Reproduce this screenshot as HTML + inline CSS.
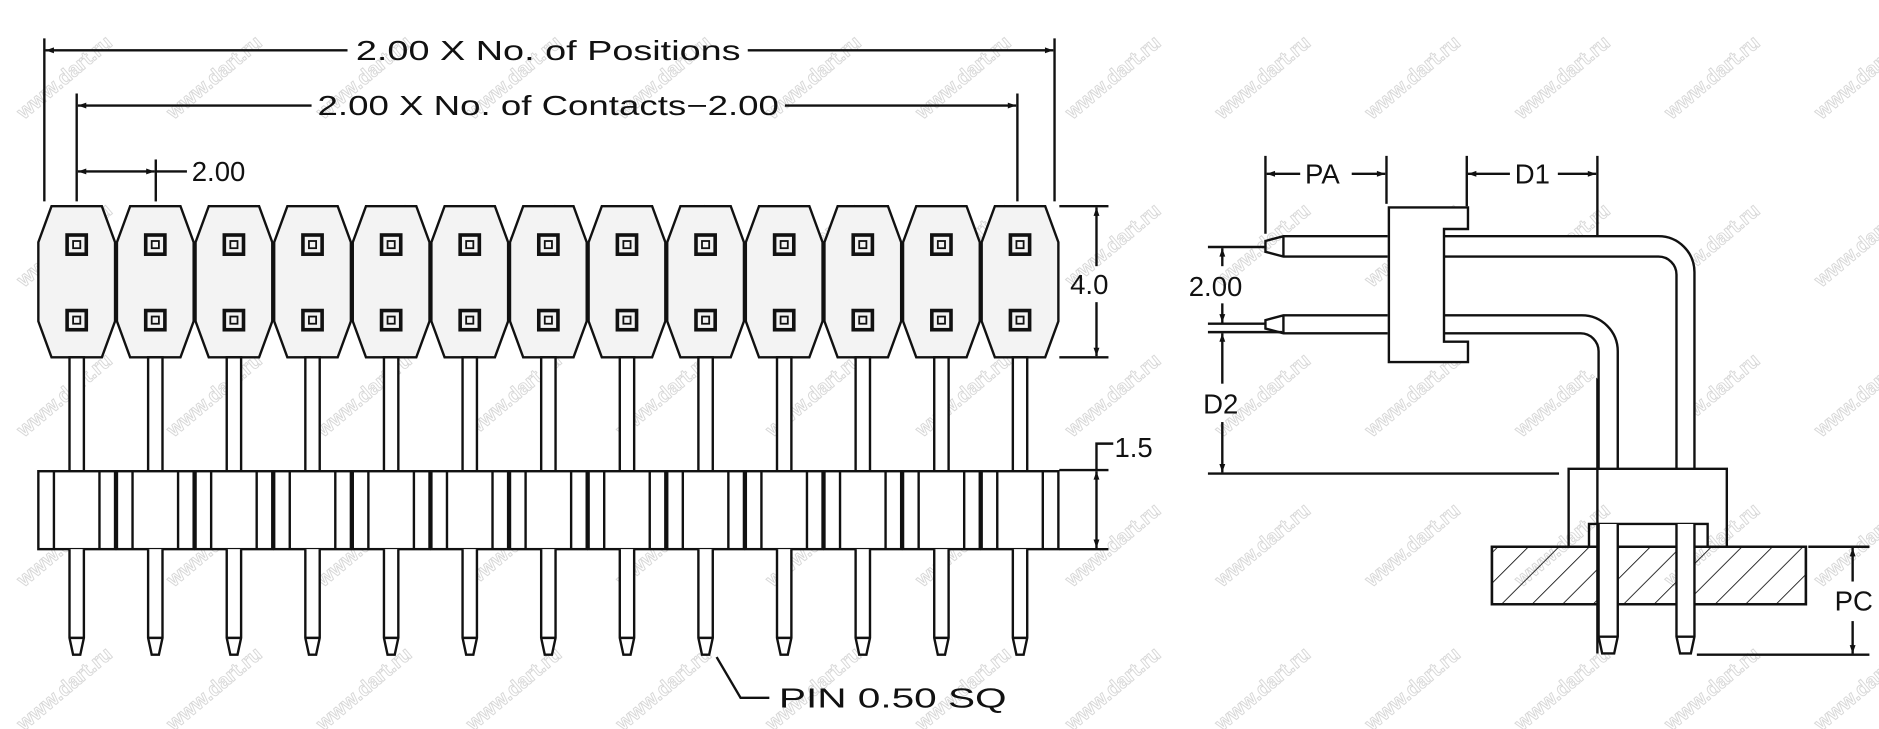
<!DOCTYPE html>
<html><head><meta charset="utf-8"><style>
html,body{margin:0;padding:0;background:#fff;}
svg{display:block;}
text{font-family:"Liberation Sans","DejaVu Sans",sans-serif;fill:#111;}
.wm{fill:none;stroke:#d8d8d8;stroke-width:0.8;font-size:17px;font-weight:bold;}
</style></head><body>
<svg width="1879" height="729" viewBox="0 0 1568 608" preserveAspectRatio="none" xmlns="http://www.w3.org/2000/svg">
<defs>
<marker id="a" viewBox="0 0 10 10" refX="10" refY="5" markerWidth="9" markerHeight="7" orient="auto-start-reverse" markerUnits="userSpaceOnUse"><path d="M0 1.5L10 5L0 8.5z" fill="#111"/></marker>
<pattern id="h" width="18" height="18" patternUnits="userSpaceOnUse" patternTransform="rotate(45)"><line x1="0" y1="0" x2="0" y2="18" stroke="#111" stroke-width="1.4"/></pattern>
<g id="p" fill="none" stroke="#111" stroke-width="2">
<polygon points="-21,172 21,172 32,202 32,268 21,298 -21,298 -32,268 -32,202" fill="#f3f3f3"/>
<rect x="-8" y="196" width="16" height="16" stroke-width="3"/><rect x="-3" y="201" width="6" height="6" stroke-width="1.5"/>
<rect x="-8" y="259" width="16" height="16" stroke-width="3"/><rect x="-3" y="264" width="6" height="6" stroke-width="1.5"/>
<rect x="-6" y="298" width="12" height="95" fill="#fff"/>
<rect x="-32" y="393" width="64" height="65" fill="#fff"/>
<line x1="-19" y1="393" x2="-19" y2="458"/><line x1="19" y1="393" x2="19" y2="458"/>
<path d="M-6 458V532L-3 546H3L6 532V458M-6 532H6" fill="#fff"/>
</g>
</defs>
<g>
<text class="wm" transform="translate(20,100) rotate(-40)">www.dart.ru</text>
<text class="wm" transform="translate(145,100) rotate(-40)">www.dart.ru</text>
<text class="wm" transform="translate(270,100) rotate(-40)">www.dart.ru</text>
<text class="wm" transform="translate(395,100) rotate(-40)">www.dart.ru</text>
<text class="wm" transform="translate(520,100) rotate(-40)">www.dart.ru</text>
<text class="wm" transform="translate(645,100) rotate(-40)">www.dart.ru</text>
<text class="wm" transform="translate(770,100) rotate(-40)">www.dart.ru</text>
<text class="wm" transform="translate(895,100) rotate(-40)">www.dart.ru</text>
<text class="wm" transform="translate(1020,100) rotate(-40)">www.dart.ru</text>
<text class="wm" transform="translate(1145,100) rotate(-40)">www.dart.ru</text>
<text class="wm" transform="translate(1270,100) rotate(-40)">www.dart.ru</text>
<text class="wm" transform="translate(1395,100) rotate(-40)">www.dart.ru</text>
<text class="wm" transform="translate(1520,100) rotate(-40)">www.dart.ru</text>
<text class="wm" transform="translate(20,240) rotate(-40)">www.dart.ru</text>
<text class="wm" transform="translate(145,240) rotate(-40)">www.dart.ru</text>
<text class="wm" transform="translate(270,240) rotate(-40)">www.dart.ru</text>
<text class="wm" transform="translate(395,240) rotate(-40)">www.dart.ru</text>
<text class="wm" transform="translate(520,240) rotate(-40)">www.dart.ru</text>
<text class="wm" transform="translate(645,240) rotate(-40)">www.dart.ru</text>
<text class="wm" transform="translate(770,240) rotate(-40)">www.dart.ru</text>
<text class="wm" transform="translate(895,240) rotate(-40)">www.dart.ru</text>
<text class="wm" transform="translate(1020,240) rotate(-40)">www.dart.ru</text>
<text class="wm" transform="translate(1145,240) rotate(-40)">www.dart.ru</text>
<text class="wm" transform="translate(1270,240) rotate(-40)">www.dart.ru</text>
<text class="wm" transform="translate(1395,240) rotate(-40)">www.dart.ru</text>
<text class="wm" transform="translate(1520,240) rotate(-40)">www.dart.ru</text>
<text class="wm" transform="translate(20,365) rotate(-40)">www.dart.ru</text>
<text class="wm" transform="translate(145,365) rotate(-40)">www.dart.ru</text>
<text class="wm" transform="translate(270,365) rotate(-40)">www.dart.ru</text>
<text class="wm" transform="translate(395,365) rotate(-40)">www.dart.ru</text>
<text class="wm" transform="translate(520,365) rotate(-40)">www.dart.ru</text>
<text class="wm" transform="translate(645,365) rotate(-40)">www.dart.ru</text>
<text class="wm" transform="translate(770,365) rotate(-40)">www.dart.ru</text>
<text class="wm" transform="translate(895,365) rotate(-40)">www.dart.ru</text>
<text class="wm" transform="translate(1020,365) rotate(-40)">www.dart.ru</text>
<text class="wm" transform="translate(1145,365) rotate(-40)">www.dart.ru</text>
<text class="wm" transform="translate(1270,365) rotate(-40)">www.dart.ru</text>
<text class="wm" transform="translate(1395,365) rotate(-40)">www.dart.ru</text>
<text class="wm" transform="translate(1520,365) rotate(-40)">www.dart.ru</text>
<text class="wm" transform="translate(20,490) rotate(-40)">www.dart.ru</text>
<text class="wm" transform="translate(145,490) rotate(-40)">www.dart.ru</text>
<text class="wm" transform="translate(270,490) rotate(-40)">www.dart.ru</text>
<text class="wm" transform="translate(395,490) rotate(-40)">www.dart.ru</text>
<text class="wm" transform="translate(520,490) rotate(-40)">www.dart.ru</text>
<text class="wm" transform="translate(645,490) rotate(-40)">www.dart.ru</text>
<text class="wm" transform="translate(770,490) rotate(-40)">www.dart.ru</text>
<text class="wm" transform="translate(895,490) rotate(-40)">www.dart.ru</text>
<text class="wm" transform="translate(1020,490) rotate(-40)">www.dart.ru</text>
<text class="wm" transform="translate(1145,490) rotate(-40)">www.dart.ru</text>
<text class="wm" transform="translate(1270,490) rotate(-40)">www.dart.ru</text>
<text class="wm" transform="translate(1395,490) rotate(-40)">www.dart.ru</text>
<text class="wm" transform="translate(1520,490) rotate(-40)">www.dart.ru</text>
<text class="wm" transform="translate(20,610) rotate(-40)">www.dart.ru</text>
<text class="wm" transform="translate(145,610) rotate(-40)">www.dart.ru</text>
<text class="wm" transform="translate(270,610) rotate(-40)">www.dart.ru</text>
<text class="wm" transform="translate(395,610) rotate(-40)">www.dart.ru</text>
<text class="wm" transform="translate(520,610) rotate(-40)">www.dart.ru</text>
<text class="wm" transform="translate(645,610) rotate(-40)">www.dart.ru</text>
<text class="wm" transform="translate(770,610) rotate(-40)">www.dart.ru</text>
<text class="wm" transform="translate(895,610) rotate(-40)">www.dart.ru</text>
<text class="wm" transform="translate(1020,610) rotate(-40)">www.dart.ru</text>
<text class="wm" transform="translate(1145,610) rotate(-40)">www.dart.ru</text>
<text class="wm" transform="translate(1270,610) rotate(-40)">www.dart.ru</text>
<text class="wm" transform="translate(1395,610) rotate(-40)">www.dart.ru</text>
<text class="wm" transform="translate(1520,610) rotate(-40)">www.dart.ru</text>
</g>

<!-- left view pins -->
<use href="#p" x="64"/><use href="#p" x="129.6"/><use href="#p" x="195.2"/><use href="#p" x="260.8"/>
<use href="#p" x="326.4"/><use href="#p" x="392"/><use href="#p" x="457.6"/><use href="#p" x="523.2"/>
<use href="#p" x="588.8"/><use href="#p" x="654.4"/><use href="#p" x="720"/><use href="#p" x="785.6"/>
<use href="#p" x="851.2"/>

<g fill="none" stroke="#111" stroke-width="2">
<!-- dims top -->
<line x1="37" y1="32" x2="37" y2="168"/><line x1="880" y1="32" x2="880" y2="168"/>
<line x1="38" y1="42" x2="290" y2="42" marker-start="url(#a)"/><line x1="624" y1="42" x2="879" y2="42" marker-end="url(#a)"/>
<line x1="64" y1="78" x2="64" y2="168"/><line x1="849" y1="78" x2="849" y2="168"/>
<line x1="65" y1="88" x2="260" y2="88" marker-start="url(#a)"/><line x1="655" y1="88" x2="848" y2="88" marker-end="url(#a)"/>
<line x1="130" y1="133" x2="130" y2="168"/>
<line x1="65" y1="143" x2="129" y2="143" marker-start="url(#a)" marker-end="url(#a)"/><line x1="130" y1="143" x2="156" y2="143"/>
<!-- 4.0 -->
<line x1="884" y1="172" x2="925" y2="172"/><line x1="884" y1="298" x2="925" y2="298"/>
<line x1="915" y1="173" x2="915" y2="222" marker-start="url(#a)"/><line x1="915" y1="252" x2="915" y2="297" marker-end="url(#a)"/>
<!-- 1.5 -->
<line x1="884" y1="392" x2="925" y2="392"/><line x1="884" y1="458" x2="925" y2="458"/>
<line x1="915" y1="393" x2="915" y2="457" marker-start="url(#a)" marker-end="url(#a)"/>
<path d="M915 392V370H929"/>
<!-- PIN leader -->
<path d="M598 548L618 582H642"/>

<!-- right view -->
<line x1="1056" y1="130" x2="1056" y2="195"/><line x1="1157" y1="130" x2="1157" y2="170"/>
<line x1="1057" y1="145" x2="1085" y2="145" marker-start="url(#a)"/><line x1="1128" y1="145" x2="1156" y2="145" marker-end="url(#a)"/>
<line x1="1224" y1="130" x2="1224" y2="172"/><line x1="1333" y1="130" x2="1333" y2="545"/>
<line x1="1225" y1="145" x2="1260" y2="145" marker-start="url(#a)"/><line x1="1300" y1="145" x2="1332" y2="145" marker-end="url(#a)"/>
<!-- pins right-angle -->
<path d="M1205 197H1384A30 30 0 0 1 1414 227V391" fill="#fff"/>
<path d="M1205 214H1384A15 15 0 0 1 1399 229V391"/>
<path d="M1205 263H1320A30 30 0 0 1 1350 293V391"/>
<path d="M1205 278H1319A15 15 0 0 1 1334 293V391"/>
<path d="M1158 197H1071L1056 201V210L1071 214H1158M1071 197V214"/>
<path d="M1158 263H1071L1056 267V274L1071 278H1158M1071 263V278"/>
<path d="M1159 173H1225V191H1205V285H1225V302H1159Z" fill="#fff"/>
<!-- 2.00 left dim -->
<line x1="1008" y1="206" x2="1056" y2="206"/><line x1="1008" y1="270" x2="1056" y2="270"/><line x1="1008" y1="277" x2="1070" y2="277"/>
<line x1="1020" y1="207" x2="1020" y2="222" marker-start="url(#a)"/><line x1="1020" y1="253" x2="1020" y2="269" marker-end="url(#a)"/>
<line x1="1020" y1="278" x2="1020" y2="320" marker-start="url(#a)"/><line x1="1020" y1="352" x2="1020" y2="394" marker-end="url(#a)"/>
<line x1="1008" y1="395" x2="1301" y2="395"/>
<!-- lower housing -->
<path d="M1309 456V391H1441V456M1326 456V437H1425V456"/>
<rect x="1245" y="456" width="262" height="48" fill="url(#h)"/>
<rect x="1334" y="456" width="16" height="48" fill="#fff" stroke="none"/>
<rect x="1399" y="456" width="15" height="48" fill="#fff" stroke="none"/>
<rect x="1245" y="456" width="262" height="48"/>
<path d="M1334 437V531L1337 545H1347L1350 531V437M1334 531H1350" fill="#fff"/>
<path d="M1399 437V531L1402 545H1411L1414 531V437M1399 531H1414" fill="#fff"/>
<!-- PC -->
<line x1="1509" y1="456" x2="1560" y2="456"/><line x1="1416" y1="546" x2="1560" y2="546"/>
<line x1="1546" y1="457" x2="1546" y2="485" marker-start="url(#a)"/><line x1="1546" y1="518" x2="1546" y2="545" marker-end="url(#a)"/>
</g>

<g font-size="23">
<text x="297" y="50" textLength="321" lengthAdjust="spacingAndGlyphs">2.00 X No. of Positions</text>
<text x="265" y="96" textLength="385" lengthAdjust="spacingAndGlyphs">2.00 X No. of Contacts−2.00</text>
<text x="160" y="151">2.00</text>
<text x="893" y="245">4.0</text>
<text x="930" y="381">1.5</text>
<text x="650" y="590" textLength="190" lengthAdjust="spacingAndGlyphs">PIN 0.50 SQ</text>
<text x="1089" y="153">PA</text>
<text x="1264" y="153">D1</text>
<text x="992" y="247">2.00</text>
<text x="1004" y="345">D2</text>
<text x="1531" y="509">PC</text>
</g>
</svg>
</body></html>
